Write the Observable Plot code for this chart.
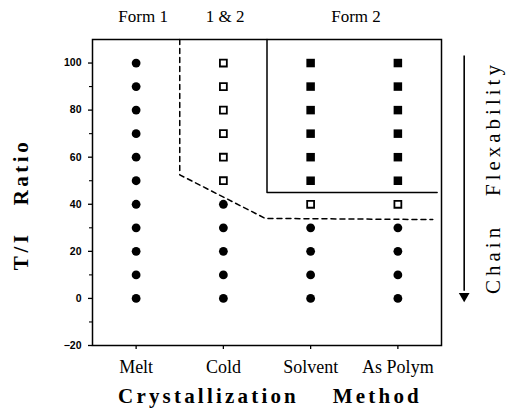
<!DOCTYPE html>
<html><head><meta charset="utf-8">
<script src="https://cdn.jsdelivr.net/npm/d3@7"></script>
<script src="https://cdn.jsdelivr.net/npm/@observablehq/plot@0.6"></script>
<style>
body{margin:0;background:#fff;}
svg text{white-space:pre;}
</style>
</head><body><div id="chart"></div>
<script>
const categories = ["Melt", "Cold", "Solvent", "As Polym"];
// T/I ratios observed for each crystallization method, by crystal form
const form1Ratios = [[0,10,20,30,40,50,60,70,80,90,100],[0,10,20,30,40],[0,10,20,30],[0,10,20,30]];
const mixedRatios = [[],[50,60,70,80,90,100],[40],[40]];
const form2Ratios = [[],[],[50,60,70,80,90,100],[50,60,70,80,90,100]];
const yTicks = [-20,0,20,40,60,80,100];
const yMinorTicks = [-10,10,30,50,70,90];
const regionLabels = ["Form 1", "1 & 2", "Form 2"];
const regionLabelX = [1.08, 2.02, 3.52];
// boundaries in data units (x: category index, y: T/I ratio)
const dashedBoundaryX = [1.5, 1.5, 2.48, 4.4];
const dashedBoundaryY = [110, 52.5, 34, 33.5];
const form2BoxX = [2.5, 2.5, 4.45];
const form2BoxY = [110, 45, 45];
const arrowX = 4.76;
const arrowY = [103, 3];
const arrowHeadY = [1];

const points = [];
categories.forEach((c, i) => {
  form1Ratios[i].forEach(r => points.push({x: i + 1, y: r, form: "Form 1"}));
  mixedRatios[i].forEach(r => points.push({x: i + 1, y: r, form: "1 & 2"}));
  form2Ratios[i].forEach(r => points.push({x: i + 1, y: r, form: "Form 2"}));
});
const serif = "'Liberation Serif', 'Times New Roman', serif";

const chart = Plot.plot({
  width: 507, height: 420,
  marginLeft: 92, marginRight: 66, marginTop: 39, marginBottom: 75,
  style: {background: "#fff", color: "#000", fontFamily: serif},
  x: {type: "linear", domain: [0.5, 4.5], axis: null},
  y: {domain: [-20, 110], axis: null},
  marks: [
    Plot.frame({stroke: "#000", strokeWidth: 1.5}),
    Plot.axisY(yTicks, {tickSize: 4, tickPadding: 7, fontSize: 10.5, fontWeight: "bold", fontFamily: "'Liberation Sans', Arial, sans-serif", label: null, strokeWidth: 1.3}),
    Plot.axisY(yMinorTicks, {tickSize: 3, text: null, label: null, strokeWidth: 1.1}),
    Plot.axisX([1,2,3,4], {tickSize: 4, tickPadding: 11, tickFormat: d => categories[d - 1], fontSize: 18, fontFamily: serif, label: null, strokeWidth: 1.3}),
    Plot.line(dashedBoundaryX.map((x, i) => ({x, y: dashedBoundaryY[i]})), {x: "x", y: "y", stroke: "#000", strokeWidth: 1.5, strokeDasharray: "5,4"}),
    Plot.line(form2BoxX.map((x, i) => ({x, y: form2BoxY[i]})), {x: "x", y: "y", stroke: "#000", strokeWidth: 1.5}),
    Plot.dot(points.filter(d => d.form === "Form 1"), {x: "x", y: "y", r: 4.4, fill: "#000", stroke: null}),
    Plot.dot(points.filter(d => d.form === "1 & 2"), {x: "x", y: "y", symbol: "square", r: 3.9, fill: "#fff", stroke: "#000", strokeWidth: 1.8}),
    Plot.dot(points.filter(d => d.form === "Form 2"), {x: "x", y: "y", symbol: "square", r: 4.8, fill: "#000", stroke: null}),
    Plot.text(regionLabels, {x: (d, i) => regionLabelX[i], y: () => 110, dy: -23, fontSize: 17, fontFamily: serif}),
    Plot.ruleX([arrowX], {y1: arrowY[0], y2: arrowY[1], stroke: "#000", strokeWidth: 1.6}),
    Plot.dot(arrowHeadY, {x: () => arrowX, y: d => d, symbol: "triangle", rotate: 180, r: 4, fill: "#000", stroke: null}),
    Plot.text(["Chain   Flexability"], {frameAnchor: "right", textAnchor: "middle", dx: 52, dy: -15, rotate: -90, fontSize: 21, fontFamily: serif}),
    Plot.text(["T/I   Ratio"], {frameAnchor: "left", textAnchor: "middle", dx: -71, dy: 12, rotate: -90, fontSize: 21, fontWeight: "bold", fontFamily: serif}),
    Plot.text(["Crystallization    Method"], {frameAnchor: "bottom", textAnchor: "middle", dy: 57, dx: 3, fontSize: 21, fontWeight: "bold", fontFamily: serif})
  ]
});
const spacing = {"Chain   Flexability": "4px", "T/I   Ratio": "3.5px", "Crystallization    Method": "3.2px"};
d3.select(chart).selectAll("text").each(function() {
  const s = spacing[this.textContent];
  if (s) this.setAttribute("letter-spacing", s);
});
document.getElementById("chart").append(chart);
</script>
</body></html>
